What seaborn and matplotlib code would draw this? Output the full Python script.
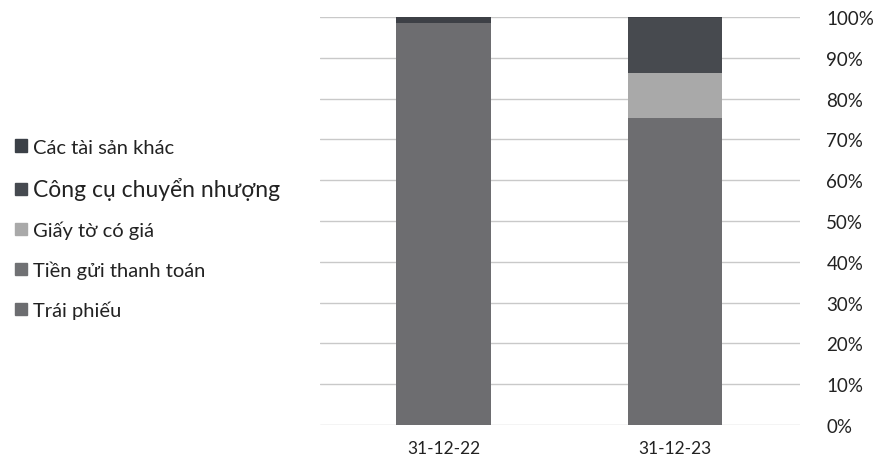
import numpy as np
import matplotlib.pyplot as plt
import seaborn as sns
from matplotlib.patches import Patch

# Dữ liệu (tỷ trọng %)
ngay = ['31-12-22', '31-12-23']
trai_phieu = [98.6, 75.3]
tien_gui = [0.0, 0.0]
giay_to = [0.0, 10.9]
cong_cu = [0.0, 13.5]
tai_san_khac = [1.4, 0.3]

series = ['Trái phiếu', 'Tiền gửi thanh toán', 'Giấy tờ có giá',
          'Công cụ chuyển nhượng', 'Các tài sản khác']
values = [trai_phieu, tien_gui, giay_to, cong_cu, tai_san_khac]
colors = ['#6c6d70', '#707174', '#a9a9a9', '#464a50', '#3b4047']

sns.set_style("white")
plt.rcParams['font.family'] = ['Lato', 'Noto Sans', 'DejaVu Sans']

fig = plt.figure(figsize=(8.79, 4.64), dpi=100)
ax = fig.add_axes([0.364, 0.082, 0.546, 0.879])

bottom = np.zeros(len(ngay))
for name, vals, c in zip(series, values, colors):
    sns.barplot(x=ngay, y=vals, bottom=bottom, color=c, width=0.41,
                ax=ax, zorder=3, linewidth=0)
    bottom += np.array(vals)

ax.set_ylim(0, 100)
ax.set_xlim(-0.535, 1.54)
ax.set_yticks(range(0, 101, 10))
ax.set_yticklabels([f'{v}%' for v in range(0, 101, 10)])
ax.yaxis.tick_right()
ax.tick_params(axis='y', length=0, pad=19, labelsize=13.5, colors='#222222')
ax.tick_params(axis='x', length=0, pad=11, labelsize=12.5, colors='#222222')
ax.grid(axis='y', color='#c9c9c9', linewidth=1, zorder=0)
ax.set_axisbelow(True)
for s in ax.spines.values():
    s.set_visible(False)

handles = [Patch(color=c, label=n) for n, c in zip(series, colors)][::-1]
leg = fig.legend(handles=handles, loc='center left', bbox_to_anchor=(-0.003, 0.505),
                 frameon=False, fontsize=14.5, handlelength=0.55, handleheight=0.55,
                 handletextpad=0.3, labelspacing=1.05, labelcolor='#222222')
leg.get_texts()[1].set_fontsize(16.5)

plt.savefig('out.png', dpi=100)
